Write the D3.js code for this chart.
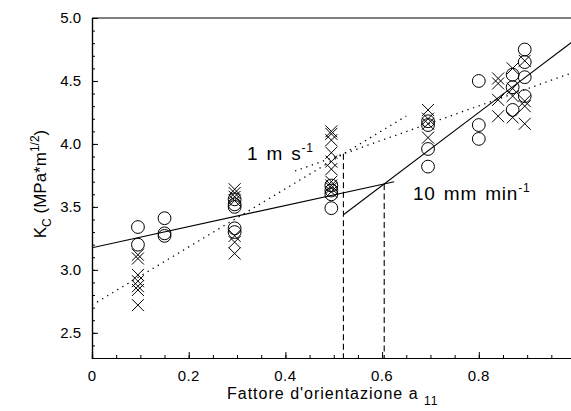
<!DOCTYPE html>
<html>
<head>
<meta charset="utf-8">
<script src="https://cdn.jsdelivr.net/npm/d3@7"></script>
<style>
  body { margin: 0; background: #fff; }
  svg { display: block; font-family: "Liberation Sans", Arial, sans-serif; }
</style>
</head>
<body>
<svg id="chart" width="571" height="411"></svg>
<script>
// orientation factor a11 (x) and Kc (y)
const circleA11 = [0.095, 0.095,
                   0.15, 0.15, 0.15,
                   0.295, 0.295, 0.295, 0.295, 0.295,
                   0.495, 0.495, 0.495, 0.495,
                   0.695, 0.695, 0.695, 0.695,
                   0.80, 0.80, 0.80,
                   0.87, 0.87, 0.87,
                   0.895, 0.895, 0.895, 0.895];
const circleKc  = [3.34, 3.20,
                   3.41, 3.29, 3.27,
                   3.56, 3.52, 3.50, 3.33, 3.30,
                   3.67, 3.63, 3.60, 3.49,
                   4.18, 4.15, 3.96, 3.82,
                   4.50, 4.15, 4.04,
                   4.55, 4.45, 4.27,
                   4.75, 4.65, 4.53, 4.38];

const crossA11 = [0.095, 0.095, 0.095, 0.095, 0.095, 0.095, 0.095,
                  0.295, 0.295, 0.295, 0.295, 0.295, 0.295, 0.295,
                  0.495, 0.495, 0.495, 0.495, 0.495, 0.495, 0.495, 0.495, 0.495, 0.495,
                  0.695, 0.695, 0.695, 0.695,
                  0.84, 0.84, 0.84, 0.84,
                  0.87, 0.87, 0.87, 0.87,
                  0.895, 0.895, 0.895, 0.895];
const crossKc  = [3.12, 3.09, 2.96, 2.91, 2.87, 2.84, 2.72,
                  3.64, 3.61, 3.58, 3.55, 3.27, 3.22, 3.13,
                  4.10, 4.08, 4.03, 3.93, 3.86, 3.80, 3.70, 3.67, 3.65, 3.62,
                  4.27, 4.20, 4.16, 4.05,
                  4.52, 4.48, 4.35, 4.22,
                  4.60, 4.44, 4.38, 4.21,
                  4.66, 4.34, 4.30, 4.16];

// fitted lines: Kc = a + b * a11, drawn between from..to
const solidFits  = [{a: 3.175, b: 0.84, from: 0,    to: 0.625},
                    {a: 1.93,  b: 2.90, from: 0.52, to: 1.0}];
const dottedFits = [{a: 2.72,  b: 2.31, from: 0,    to: 0.65},
                    {a: 3.214, b: 1.36, from: 0.42, to: 1.0}];

const xMajor = [0, 0.2, 0.4, 0.6, 0.8, 1.0];
const yMajor = [2.5, 3.0, 3.5, 4.0, 4.5, 5.0];

const svg = d3.select("#chart");

var x = d3.scaleLinear().domain([0, 1]).range([92, 575.5]);
var y = d3.scaleLinear().domain([2.3, 5.0]).range([358, 18]);

svg.append("defs").append("clipPath").attr("id", "plot")
  .append("rect")
  .attr("x", x(0)).attr("y", y(5.0))
  .attr("width", x(1) - x(0)).attr("height", y(2.3) - y(5.0));

// axes, ticks pointing inward
var xAxis = d3.axisTop(x).tickValues(xMajor).tickSize(6).tickFormat("");
var xMinor = d3.axisTop(x).tickValues(d3.range(0, 1.001, 0.05)).tickSize(3).tickFormat("");
var yAxis = d3.axisRight(y).tickValues(yMajor).tickSize(6).tickFormat("");
var yMinor = d3.axisRight(y).tickValues(d3.range(2.3, 5.001, 0.1)).tickSize(3).tickFormat("");

[xMinor, xAxis].forEach(function(ax) {
  svg.append("g").attr("transform", "translate(0," + y(2.3) + ")").call(ax);
});
[yMinor, yAxis].forEach(function(ax) {
  svg.append("g").attr("transform", "translate(" + x(0) + ",0)").call(ax);
});
svg.selectAll(".domain").attr("stroke", "#000").attr("stroke-width", 1.2);
svg.selectAll(".tick line").attr("stroke", "#000");

// top frame line
svg.append("line")
  .attr("x1", x(0)).attr("x2", x(1))
  .attr("y1", y(5.0)).attr("y2", y(5.0))
  .attr("stroke", "#000").attr("stroke-width", 1.2);

// tick labels
svg.append("g").selectAll("text")
  .data(xMajor.slice(0, 5))
  .enter().append("text")
  .attr("x", function(d) { return x(d); })
  .attr("y", 381)
  .attr("text-anchor", "middle")
  .attr("font-size", 15)
  .attr("letter-spacing", 0.4)
  .text(function(d) { return d === 0 ? "0" : d3.format(".1f")(d); });

svg.append("g").selectAll("text")
  .data(yMajor)
  .enter().append("text")
  .attr("x", x(0) - 11)
  .attr("y", function(d) { return y(d) + 5; })
  .attr("text-anchor", "end")
  .attr("font-size", 15)
  .text(function(d) { return d3.format(".1f")(d); });

var plot = svg.append("g").attr("clip-path", "url(#plot)");

// fit lines
function fitLine(f, dash) {
  plot.append("line")
    .attr("x1", x(f.from)).attr("y1", y(f.a + f.b * f.from))
    .attr("x2", x(f.to)).attr("y2", y(f.a + f.b * f.to))
    .attr("stroke", "#000")
    .attr("stroke-width", dash ? 1.3 : 1.1)
    .attr("stroke-dasharray", dash);
}
solidFits.forEach(function(f) { fitLine(f, null); });
dottedFits.forEach(function(f) { fitLine(f, "1.3,4.6"); });

// dashed drops from the intersections
[solidFits, dottedFits].forEach(function(pair) {
  var xi = (pair[1].a - pair[0].a) / (pair[0].b - pair[1].b);
  var yi = pair[0].a + pair[0].b * xi;
  plot.append("line")
    .attr("x1", x(xi)).attr("x2", x(xi))
    .attr("y1", y(yi)).attr("y2", y(2.3))
    .attr("stroke", "#000").attr("stroke-width", 1.1)
    .attr("stroke-dasharray", "6,3.5");
});

// markers
plot.append("g").selectAll("circle")
  .data(d3.range(circleA11.length))
  .enter().append("circle")
  .attr("cx", function(i) { return x(circleA11[i]); })
  .attr("cy", function(i) { return y(circleKc[i]); })
  .attr("r", 6.4)
  .attr("fill", "none")
  .attr("stroke", "#000")
  .attr("stroke-width", 1);

var s = 6;
plot.append("g").selectAll("path")
  .data(d3.range(crossA11.length))
  .enter().append("path")
  .attr("d", function(i) {
    var cx = x(crossA11[i]), cy = y(crossKc[i]);
    return "M" + (cx - s) + "," + (cy - s) + "L" + (cx + s) + "," + (cy + s) +
           "M" + (cx - s) + "," + (cy + s) + "L" + (cx + s) + "," + (cy - s);
  })
  .attr("fill", "none")
  .attr("stroke", "#000")
  .attr("stroke-width", 1);

// in-plot labels
var lab1 = svg.append("text").attr("x", 247).attr("y", 160)
  .attr("font-size", 19).attr("letter-spacing", 0.8).attr("word-spacing", 2);
lab1.append("tspan").text("1 m s");
lab1.append("tspan").attr("font-size", 12).attr("dy", -8).text("-1");

var lab2 = svg.append("text").attr("x", 413).attr("y", 200)
  .attr("font-size", 19).attr("letter-spacing", 0.8).attr("word-spacing", 2);
lab2.append("tspan").text("10 mm min");
lab2.append("tspan").attr("font-size", 12).attr("dy", -8).text("-1");

// axis titles
var xt = svg.append("text")
  .attr("x", 227).attr("y", 399)
  .attr("font-size", 16).attr("letter-spacing", 1);
xt.append("tspan").text("Fattore d'orientazione a ");
xt.append("tspan").attr("font-size", 12).attr("dy", 6).text("11");

var yt = svg.append("text")
  .attr("transform", "translate(46,184) rotate(-90)")
  .attr("text-anchor", "middle")
  .attr("font-size", 17);
yt.append("tspan").text("K");
yt.append("tspan").attr("font-size", 12).attr("dy", 5).text("C");
yt.append("tspan").attr("dy", -5).text(" (MPa*m");
yt.append("tspan").attr("font-size", 12).attr("dy", -7).text("1/2");
yt.append("tspan").attr("dy", 7).text(")");
</script>
</body>
</html>
